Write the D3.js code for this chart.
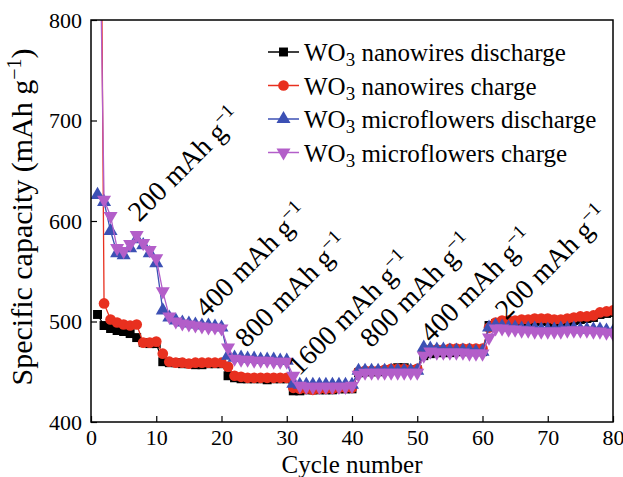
<!DOCTYPE html>
<html>
<head>
<meta charset="utf-8">
<script src="https://d3js.org/d3.v7.min.js"></script>
<style>
  body { margin: 0; background: #fff; }
  svg text { font-family: "Liberation Serif", "Times New Roman", serif; fill: #000; }
</style>
</head>
<body>
<div id="chart"></div>
<script>
// cycles 1..80
const cycles = d3.range(1, 81);

const nwDischarge = [
  507, 496, 493, 491, 490, 488, 484, 479, 478, 478,
  460, 459, 459, 458, 458, 457, 457, 458, 458, 458,
  446, 444, 443, 443, 443, 443, 442, 443, 443, 443,
  431, 431, 432, 432, 432, 432, 432, 433, 433, 433,
  449, 450, 450, 450, 451, 452, 454, 454, 452, 452,
  466, 468, 469, 469, 469, 470, 470, 470, 470, 470,
  496, 498, 498, 499, 498, 500, 501, 500, 501, 500,
  499, 496, 499, 501, 502, 503, 504, 507, 508, 509
];
const nwCharge = [
  1400, 518, 502, 499, 497, 496, 497, 479, 479, 480,
  468, 460, 459, 459, 458, 459, 459, 459, 459, 459,
  455, 446, 445, 444, 444, 444, 444, 444, 444, 444,
  434, 433, 433, 432, 433, 433, 433, 434, 434, 434,
  450, 451, 451, 451, 452, 453, 453, 453, 452, 453,
  470, 472, 472, 472, 473, 473, 473, 473, 473, 473,
  494, 499, 501, 501, 501, 502, 502, 503, 503, 503,
  502, 502, 503, 504, 505, 505, 506, 509, 510, 511
];
const mfDischarge = [
  626, 619, 590, 568, 566, 573, 582, 576, 568, 558,
  511, 504, 501, 499, 498, 497, 496, 496, 495, 494,
  466, 464, 464, 463, 463, 462, 462, 462, 461, 461,
  438, 437, 437, 437, 437, 437, 437, 437, 437, 437,
  451, 451, 451, 451, 451, 451, 451, 451, 451, 451,
  474, 473, 472, 472, 471, 471, 471, 471, 470, 470,
  494, 496, 495, 494, 494, 493, 493, 493, 492, 492,
  492, 493, 493, 493, 492, 492, 492, 492, 491, 490
];
const mfCharge = [
  1050, 621, 605, 573, 570, 577, 586, 578, 571, 563,
  530, 505, 500, 498, 497, 496, 495, 494, 494, 493,
  474, 463, 462, 462, 461, 461, 461, 460, 460, 460,
  446, 436, 435, 435, 435, 435, 435, 435, 435, 436,
  447, 449, 449, 449, 449, 449, 449, 449, 449, 449,
  466, 470, 469, 469, 469, 469, 469, 468, 468, 468,
  484, 493, 493, 492, 492, 491, 491, 490, 490, 490,
  490, 490, 491, 491, 491, 491, 490, 490, 489, 488
];

const seriesNames = ["nanowires discharge", "nanowires charge", "microflowers discharge", "microflowers charge"];
const seriesValues = [nwDischarge, nwCharge, mfDischarge, mfCharge];
const seriesColors = ["#000000", "#e8301f", "#3c50b4", "#b35ec9"];
const seriesSymbols = ["square", "circle", "up", "down"];

const xTicks = [0, 10, 20, 30, 40, 50, 60, 70, 80];
const yTicks = [400, 500, 600, 700, 800];

const rateLabels = ["200", "400", "800", "1600", "800", "400", "200"];
const rateLabelPos = [[184, 164], [251, 260], [291, 290], [349, 313], [416, 290], [476, 285], [551, 262]];

const width = 623, height = 477;
const margin = { left: 91, right: 10, top: 20, bottom: 55 };

const svg = d3.select("#chart").append("svg")
  .attr("width", width)
  .attr("height", height);

const x = d3.scaleLinear().domain([0, 80]).range([margin.left, width - margin.right]);
const y = d3.scaleLinear().domain([400, 800]).range([height - margin.bottom, margin.top]);

svg.append("clipPath").attr("id", "clip")
  .append("rect")
  .attr("x", x(0)).attr("y", y(800))
  .attr("width", x(80) - x(0)).attr("height", y(400) - y(800));

function symbolPath(kind) {
  const t = kind === "square" ? d3.symbolSquare : kind === "circle" ? d3.symbolCircle : d3.symbolTriangle;
  const size = kind === "square" ? 80 : kind === "circle" ? 90 : 85;
  return d3.symbol().type(t).size(size)();
}
function symbolTransform(kind, px, py) {
  return kind === "down" ? `translate(${px},${py}) rotate(180)` : `translate(${px},${py})`;
}

const plot = svg.append("g").attr("clip-path", "url(#clip)");

const line = d3.line().x((d, i) => x(cycles[i])).y(d => y(d));

seriesValues.forEach((vals, k) => {
  const g = plot.append("g");
  g.append("path")
    .datum(vals)
    .attr("d", line)
    .attr("fill", "none")
    .attr("stroke", seriesColors[k])
    .attr("stroke-width", 1.3);
  g.selectAll("path.m")
    .data(vals)
    .enter().append("path")
    .attr("class", "m")
    .attr("d", symbolPath(seriesSymbols[k]))
    .attr("transform", (d, i) => symbolTransform(seriesSymbols[k], x(cycles[i]), y(d)))
    .attr("fill", seriesColors[k]);
});

// axes (ticks inward)
const xAxis = svg.append("g")
  .attr("transform", `translate(0,${y(400)})`)
  .call(d3.axisBottom(x).tickValues(xTicks).tickSize(-6).tickPadding(8));
const yAxis = svg.append("g")
  .attr("transform", `translate(${x(0)},0)`)
  .call(d3.axisLeft(y).tickValues(yTicks).tickSize(-6).tickPadding(9));
[xAxis, yAxis].forEach(a => {
  a.select(".domain").remove();
  a.selectAll("line").attr("stroke", "#000").attr("stroke-width", 1.2);
  a.selectAll("text").attr("font-size", 22).attr("font-family", "Liberation Serif");
});
xAxis.selectAll("text").attr("dy", "0.7em");

svg.append("rect")
  .attr("x", x(0)).attr("y", y(800))
  .attr("width", x(80) - x(0)).attr("height", y(400) - y(800))
  .attr("fill", "none").attr("stroke", "#000").attr("stroke-width", 1.5);

// axis titles
svg.append("text")
  .attr("x", (x(0) + x(80)) / 2).attr("y", 473)
  .attr("text-anchor", "middle").attr("font-size", 25)
  .text("Cycle number");

const yt = svg.append("text")
  .attr("transform", `translate(32,${(y(400) + y(800)) / 2 - 4}) rotate(-90)`)
  .attr("text-anchor", "middle").attr("font-size", 30);
yt.append("tspan").text("Specific capacity (mAh g");
yt.append("tspan").attr("font-size", 20).attr("dy", -11).text("\u22121");
yt.append("tspan").attr("dy", 11).text(")");

// legend
const legend = svg.append("g");
seriesNames.forEach((name, k) => {
  const ly = 52 + k * 33.5;
  legend.append("line")
    .attr("x1", 268).attr("x2", 299).attr("y1", ly).attr("y2", ly)
    .attr("stroke", seriesColors[k]).attr("stroke-width", 1.5);
  legend.append("path")
    .attr("d", symbolPath(seriesSymbols[k]))
    .attr("transform", symbolTransform(seriesSymbols[k], 283.5, ly))
    .attr("fill", seriesColors[k]);
  const t = legend.append("text")
    .attr("x", 304).attr("y", ly + 9).attr("font-size", 25);
  t.append("tspan").text("WO");
  t.append("tspan").attr("font-size", 19).attr("dy", 5).text("3");
  t.append("tspan").attr("dy", -5).text(" " + name);
});

// current density labels
rateLabels.forEach((r, i) => {
  const [cx, cy] = rateLabelPos[i];
  const t = svg.append("text")
    .attr("transform", `translate(${cx},${cy}) rotate(-45)`)
    .attr("text-anchor", "middle").attr("dy", "0.35em")
    .attr("font-size", 28);
  t.append("tspan").text(r + " mAh g");
  t.append("tspan").attr("font-size", 19).attr("dy", -11).text("\u22121");
});
</script>
</body>
</html>
